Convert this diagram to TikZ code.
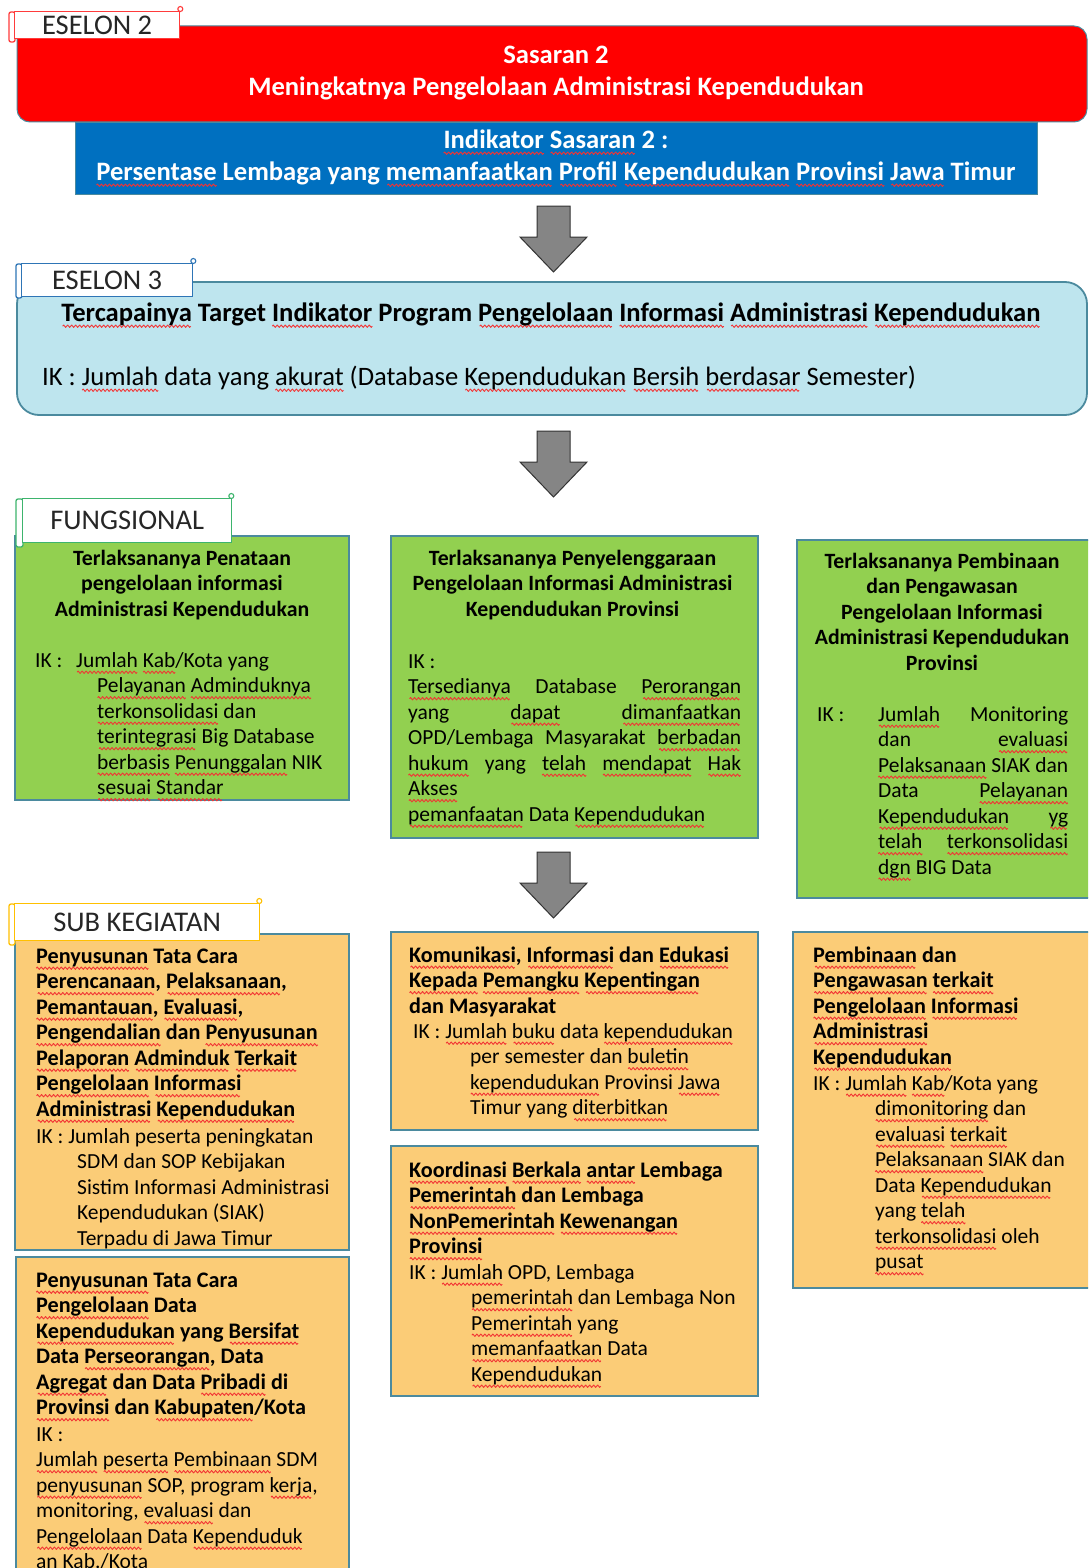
\documentclass[tikz,border=0pt]{standalone}
\usepackage{fontspec}
\setmainfont{Carlito}
\usetikzlibrary{calc}

\definecolor{sasaranred}{HTML}{FF0000}
\definecolor{indblue}{HTML}{0070C0}
\definecolor{eselonthree}{HTML}{BEE5EE}
\definecolor{framegray}{HTML}{4B8A9E}
\definecolor{fungsigreen}{HTML}{92D050}
\definecolor{subkegorange}{HTML}{FBCC77}
\definecolor{tabred}{HTML}{FF3B3B}
\definecolor{tabblue}{HTML}{2E75B6}
\definecolor{tabgreen}{HTML}{3DB46D}
\definecolor{taborange}{HTML}{FFC000}
\definecolor{arrowgray}{HTML}{858585}
\definecolor{squiggle}{HTML}{F23434}

% first-line struts fix the distance from node top to first baseline
\newcommand\topstrut{\rule{0pt}{24pt}}
\newcommand\bodystrut{\rule{0pt}{19pt}}
% a justified line of given width
\newcommand\jl[2]{\makebox[#1][s]{#2}}
% one period of the red wavy underline, tiled under a word
\newsavebox\wavebox
\sbox\wavebox{\tikz[x=1pt,y=1pt,baseline=0pt]{%
  \useasboundingbox (0,-1.5) rectangle (4,1.5);
  \draw[squiggle, line width=0.9pt, line join=round] (0,0) -- (1,1.2) -- (3,-1.2) -- (4,0);}}
\newsavebox\sqbox
\newcommand\sq[1]{\sbox\sqbox{#1}%
  \rlap{\lower5pt\hbox to \wd\sqbox{\cleaders\copy\wavebox\hfill}}%
  \usebox\sqbox}

\begin{document}
\begin{tikzpicture}[x=1pt,y=-1pt,
  panel/.style={anchor=north west, inner sep=0pt, outer sep=0pt, draw=framegray, line width=1.2pt},
  tabbox/.style={draw=#1, fill=white, line width=1.3pt, anchor=north west, inner sep=0pt,
                 font=\fontsize{28.5}{32}\selectfont, text=black!85},
  tabbar/.style={draw=#1, fill=white, line width=1.3pt, rounded corners=2pt},
  tabcurl/.style={draw=#1, fill=white, line width=1.1pt},
  headtext/.style={inner sep=0pt, align=center, text=white, font=\fontsize{26.6}{32}\selectfont\bfseries},
  bodytext/.style={anchor=north west, inner sep=0pt, align=left, font=\fontsize{21.5}{25.5}\selectfont},
  boldtext/.style={bodytext, font=\fontsize{22.2}{25.5}\selectfont\bfseries},
  titletext/.style={anchor=north, inner sep=0pt, align=center, font=\fontsize{21.8}{25.5}\selectfont\bfseries},
  blockarrow/.style={fill=arrowgray, draw=black!80, line width=1pt, line join=miter}
]
\useasboundingbox (0,0) rectangle (1088,1568);
\fill[white] (0,0) rectangle (1088,1568);

\begin{scope}
\clip (0,0) rectangle (1088,1568);

% ---------------- ESELON 2 ----------------
\node[panel, fill=sasaranred, line width=1pt, rounded corners=13pt,
      minimum width=1070, minimum height=96] (sasaran) at (17,26) {};
\node[panel, fill=indblue, line width=0.8pt,
      minimum width=962, minimum height=72] (indikator) at (75,122) {};
\node[headtext, anchor=north] (sasarantext) at (556,39)
  {\topstrut Sasaran 2\\Meningkatnya Pengelolaan Administrasi Kependudukan};
\node[headtext, anchor=north] (indikatortext) at (556,124)
  {\topstrut \sq{Indikator} \sq{Sasaran} 2 :\\\sq{Persentase} Lembaga yang \sq{memanfaatkan} \sq{Profil} \sq{Kependudukan} \sq{Provinsi} \sq{Jawa} Timur};

\draw[tabbar=tabred] (9,12) rectangle (15,42);
\node[tabbox=tabred, minimum width=165, minimum height=27] (tabtwo) at (14,11) {ESELON 2};
\draw[tabcurl=tabred] (tabtwo.north east) ++(0,-2) circle (2.5pt);

% arrow from eselon 2 to eselon 3
\coordinate (arrowA) at (553.5,206);
\draw[blockarrow] (arrowA) ++(-16.5,0) -- ++(33,0) -- ++(0,31) -- ++(17,0)
  -- ++(-33.5,35) -- ++(-33.5,-35) -- ++(17,0) -- cycle;

% ---------------- ESELON 3 ----------------
\node[panel, fill=eselonthree, line width=1.8pt, rounded corners=22pt,
      minimum width=1070, minimum height=133] (eselontiga) at (17,282) {};
\node[titletext, font=\fontsize{26.6}{30}\selectfont\bfseries] (eselontigatitle) at (551,297)
  {\topstrut \sq{Tercapainya} Target \sq{Indikator} Program \sq{Pengelolaan} \sq{Informasi} \sq{Administrasi} \sq{Kependudukan}};
\node[bodytext, font=\fontsize{26.6}{30}\selectfont] (eselontigaik) at (42,361)
  {\topstrut IK : \sq{Jumlah} data yang \sq{akurat} (Database \sq{Kependudukan} \sq{Bersih} \sq{berdasar} Semester)};

\draw[tabbar=tabblue] (16,264) rectangle (22,298);
\node[tabbox=tabblue, minimum width=171, minimum height=33] (tabthree) at (21,263) {ESELON 3};
\draw[tabcurl=tabblue] (tabthree.north east) ++(0,-2) circle (2.5pt);

% arrow from eselon 3 to fungsional
\coordinate (arrowB) at (553.5,431);
\draw[blockarrow] (arrowB) ++(-16.5,0) -- ++(33,0) -- ++(0,31) -- ++(17,0)
  -- ++(-33.5,35) -- ++(-33.5,-35) -- ++(17,0) -- cycle;

% ---------------- FUNGSIONAL ----------------
\node[panel, fill=fungsigreen, minimum width=334, minimum height=264] (fungsiA) at (15,536) {};
\node[panel, fill=fungsigreen, minimum width=367, minimum height=302] (fungsiB) at (391,536) {};
\node[panel, fill=fungsigreen, minimum width=310, minimum height=358] (fungsiC) at (797,540) {};

\node[titletext] (fungsiAtitle) at (182,546)
  {\bodystrut Terlaksananya Penataan\\pengelolaan informasi\\Administrasi Kependudukan};
\node[bodytext] (fungsiAik) at (35,648)
  {\bodystrut\makebox[41pt][l]{IK :}\sq{Jumlah} \sq{Kab}/Kota yang\\
   \hspace*{62pt}\sq{Pelayanan} \sq{Adminduknya}\\
   \hspace*{62pt}\sq{terkonsolidasi} dan\\
   \hspace*{62pt}\sq{terintegrasi} Big Database\\
   \hspace*{62pt}\sq{berbasis} \sq{Penunggalan} NIK\\
   \hspace*{62pt}\sq{sesuai} \sq{Standar}};

\node[titletext] (fungsiBtitle) at (572.5,546)
  {\bodystrut Terlaksananya Penyelenggaraan\\Pengelolaan Informasi Administrasi\\Kependudukan Provinsi};
\node[bodytext] (fungsiBik) at (408,649)
  {\bodystrut IK :\\
   \jl{333pt}{\sq{Tersedianya} Database \sq{Perorangan}}\\
   \jl{333pt}{yang \sq{dapat} \sq{dimanfaatkan}}\\
   \jl{333pt}{OPD/Lembaga Masyarakat \sq{berbadan}}\\
   \jl{333pt}{\sq{hukum} yang \sq{telah} \sq{mendapat} \sq{Hak}}\\
   \sq{Akses}\\
   \sq{pemanfaatan} Data \sq{Kependudukan}};

\node[titletext] (fungsiCtitle) at (942,549)
  {\bodystrut Terlaksananya Pembinaan\\dan Pengawasan\\Pengelolaan Informasi\\Administrasi Kependudukan\\Provinsi};
\node[bodytext] (fungsiCik) at (817,702)
  {\bodystrut\makebox[61pt][l]{IK :}\jl{190pt}{\sq{Jumlah} Monitoring}\\
   \hspace*{61pt}\jl{190pt}{dan \sq{evaluasi}}\\
   \hspace*{61pt}\jl{190pt}{\sq{Pelaksanaan} SIAK dan}\\
   \hspace*{61pt}\jl{190pt}{Data \sq{Pelayanan}}\\
   \hspace*{61pt}\jl{190pt}{\sq{Kependudukan} \sq{yg}}\\
   \hspace*{61pt}\jl{190pt}{\sq{telah} \sq{terkonsolidasi}}\\
   \hspace*{61pt}\sq{dgn} BIG Data};

\draw[tabbar=tabgreen] (16,499) rectangle (23,547);
\node[tabbox=tabgreen, minimum width=209, minimum height=44] (tabfungsi) at (22,498) {FUNGSIONAL};
\draw[tabcurl=tabgreen] (tabfungsi.north east) ++(-1,-2) circle (2.5pt);

% arrow from fungsional to sub kegiatan
\coordinate (arrowC) at (553.5,852);
\draw[blockarrow] (arrowC) ++(-16.5,0) -- ++(33,0) -- ++(0,31) -- ++(17,0)
  -- ++(-33.5,35) -- ++(-33.5,-35) -- ++(17,0) -- cycle;

% ---------------- SUB KEGIATAN ----------------
\node[panel, fill=subkegorange, minimum width=334, minimum height=316] (subA) at (15,934) {};
\node[panel, fill=subkegorange, minimum width=333, minimum height=330] (subB) at (16,1257) {};
\node[panel, fill=subkegorange, minimum width=367, minimum height=198] (subC) at (391,932) {};
\node[panel, fill=subkegorange, minimum width=367, minimum height=250] (subD) at (391,1146) {};
\node[panel, fill=subkegorange, minimum width=315, minimum height=356] (subE) at (793,932) {};

\node[boldtext] (subAtitle) at (36,944)
  {\bodystrut \sq{Penyusunan} Tata Cara\\\sq{Perencanaan}, \sq{Pelaksanaan},\\\sq{Pemantauan}, \sq{Evaluasi},\\
   \sq{Pengendalian} dan \sq{Penyusunan}\\\sq{Pelaporan} \sq{Adminduk} \sq{Terkait}\\\sq{Pengelolaan} \sq{Informasi}\\
   \sq{Administrasi} \sq{Kependudukan}};
\node[bodytext] (subAik) at (36,1124)
  {\bodystrut IK : Jumlah peserta peningkatan\\
   \hspace*{41pt}SDM dan SOP Kebijakan\\
   \hspace*{41pt}Sistim Informasi Administrasi\\
   \hspace*{41pt}Kependudukan (SIAK)\\
   \hspace*{41pt}Terpadu di Jawa Timur};

\node[boldtext] (subBtitle) at (36,1268)
  {\bodystrut \sq{Penyusunan} Tata Cara\\\sq{Pengelolaan} Data\\\sq{Kependudukan} yang \sq{Bersifat}\\
   Data \sq{Perseorangan}, Data\\\sq{Agregat} dan Data \sq{Pribadi} di\\\sq{Provinsi} dan \sq{Kabupaten}/Kota};
\node[bodytext] (subBik) at (36,1422)
  {\bodystrut IK :\\\sq{Jumlah} \sq{peserta} \sq{Pembinaan} SDM\\\sq{penyusunan} SOP, program \sq{kerja},\\
   monitoring, \sq{evaluasi} dan\\\sq{Pengelolaan} Data \sq{Kependuduk}\\an Kab./Kota};

\node[boldtext] (subCtitle) at (409,943)
  {\bodystrut \sq{Komunikasi}, \sq{Informasi} dan \sq{Edukasi}\\\sq{Kepada} \sq{Pemangku} \sq{Kepentingan}\\dan Masyarakat};
\node[bodytext] (subCik) at (409,1019)
  {\bodystrut\hspace*{4pt}IK : \sq{Jumlah} \sq{buku} data \sq{kependudukan}\\
   \hspace*{61pt}per semester dan \sq{buletin}\\
   \hspace*{61pt}\sq{kependudukan} Provinsi \sq{Jawa}\\
   \hspace*{61pt}Timur yang \sq{diterbitkan}};

\node[boldtext] (subDtitle) at (409,1158)
  {\bodystrut \sq{Koordinasi} \sq{Berkala} \sq{antar} Lembaga\\\sq{Pemerintah} dan Lembaga\\\sq{NonPemerintah} \sq{Kewenangan}\\\sq{Provinsi}};
\node[bodytext] (subDik) at (409,1260)
  {\bodystrut IK : \sq{Jumlah} OPD, Lembaga\\
   \hspace*{62pt}\sq{pemerintah} dan Lembaga Non\\
   \hspace*{62pt}\sq{Pemerintah} yang\\
   \hspace*{62pt}\sq{memanfaatkan} Data\\
   \hspace*{62pt}\sq{Kependudukan}};

\node[boldtext] (subEtitle) at (813,943)
  {\bodystrut \sq{Pembinaan} dan\\\sq{Pengawasan} \sq{terkait}\\\sq{Pengelolaan} \sq{Informasi}\\\sq{Administrasi}\\\sq{Kependudukan}};
\node[bodytext] (subEik) at (813,1071)
  {\bodystrut IK : \sq{Jumlah} \sq{Kab}/Kota yang\\
   \hspace*{62pt}\sq{dimonitoring} dan\\
   \hspace*{62pt}\sq{evaluasi} \sq{terkait}\\
   \hspace*{62pt}\sq{Pelaksanaan} SIAK dan\\
   \hspace*{62pt}Data \sq{Kependudukan}\\
   \hspace*{62pt}yang \sq{telah}\\
   \hspace*{62pt}\sq{terkonsolidasi} oleh\\
   \hspace*{62pt}\sq{pusat}};

\draw[tabbar=taborange] (9,904) rectangle (15,945);
\node[tabbox=taborange, minimum width=245, minimum height=37] (tabsub) at (14,903) {SUB KEGIATAN};
\draw[tabcurl=taborange] (tabsub.north east) ++(-1,-2) circle (2.5pt);

\end{scope}
\end{tikzpicture}
\end{document}
